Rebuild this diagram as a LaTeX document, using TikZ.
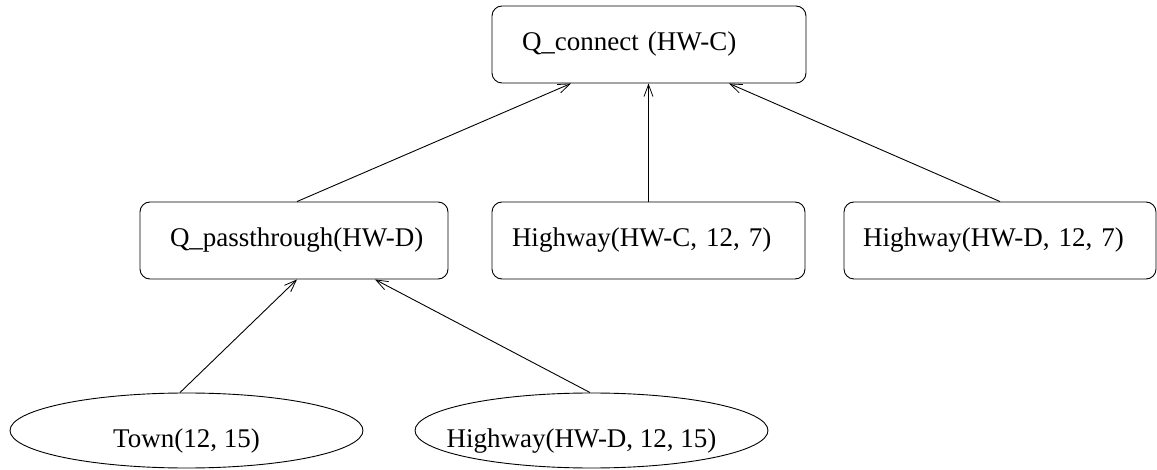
\documentclass[tikz,border=0pt]{standalone}
\usepackage{fontspec}
\setmainfont{Liberation Serif}
\usetikzlibrary{arrows.meta,shapes.geometric}

\tikzset{
  base/.style={draw=black, line width=0.9pt, font=\fontsize{27}{32}\selectfont},
  % rounded box; the text sits a little left of centre
  rbox/.style={base, rectangle, rounded corners=10pt, minimum height=77pt,
               inner xsep=0pt, align=left},
  % ellipse; the tall text box puts the label a little below the centre
  fact/.style={base, ellipse, minimum width=353pt, minimum height=75pt, inner sep=0pt,
               text height=38pt, text depth=5pt},
  link/.style={draw=black, line width=0.9pt,
               -{Straight Barb[length=12pt,width=9pt,line width=0.8pt]}},
}

\begin{document}
\begin{tikzpicture}[x=1pt, y=-1pt]
  \useasboundingbox (0,0) rectangle (1157,470);

  % rule heads and body goals
  \node[rbox, text width=314pt] (top) at (649,44.5) {\hspace*{30pt}Q\_connect (HW-C)};
  \node[rbox, text width=308pt] (qp)  at (294,240.5) {\hspace*{30pt}Q\_passthrough(HW-D)};
  \node[rbox, text width=313pt] (hwc) at (648.5,240.5) {\hspace*{20pt}Highway(HW-C, 12, 7)};
  \node[rbox, text width=312pt] (hwd) at (1000,240.5) {\hspace*{19pt}Highway(HW-D, 12, 7)};

  % base facts
  \node[fact] (town) at (186.5,430.5) {\makebox[0pt]{Town(12, 15)}};
  \node[fact] (hwy)  at (591.5,430.5) {\makebox[0pt]{\hspace*{-20pt}Highway(HW-D, 12, 15)}};

  % support links
  \draw[link] ([xshift=3pt]qp.north) -- ([xshift=-78pt]top.south);
  \draw[link] (hwc.north) -- (hwc.north |- top.south);
  \draw[link] (hwd.north) -- ([xshift=80pt]top.south);
  \draw[link] ([xshift=-6.5pt]town.north) -- ([xshift=3pt]qp.south);
  \draw[link] ([xshift=-1.5pt]hwy.north) -- ([xshift=81pt]qp.south);
\end{tikzpicture}
\end{document}
